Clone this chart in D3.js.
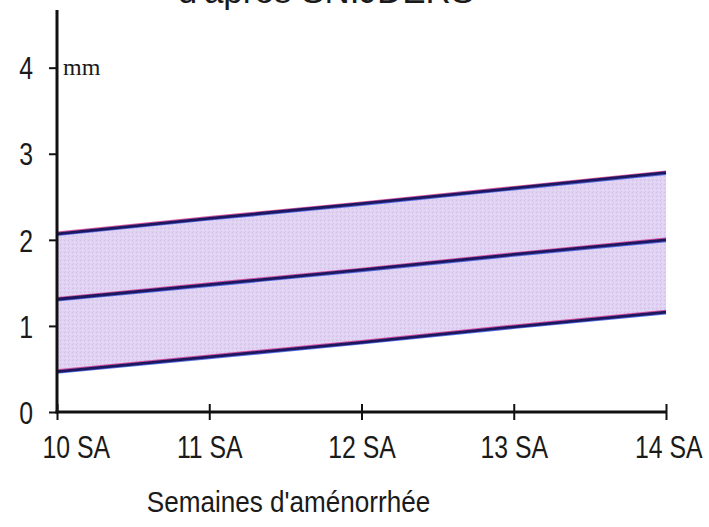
<!DOCTYPE html>
<html>
<head>
<meta charset="utf-8">
<script src="https://cdn.jsdelivr.net/npm/d3@7"></script>
<style>
  html, body { margin: 0; padding: 0; background: #fff; }
  svg { display: block; }
  text { font-family: "Liberation Sans", Arial, Helvetica, sans-serif; fill: #1a1a1a; }
</style>
</head>
<body>
<svg id="chart" width="709" height="527"></svg>
<script>
// Nuchal translucency reference band (mm) by gestational week
const weeks = [10, 11, 12, 13, 14];
const weekLabels = ["10 SA", "11 SA", "12 SA", "13 SA", "14 SA"];
const upper = [2.07, 2.25, 2.42, 2.60, 2.78];   // 95th percentile
const median = [1.31, 1.48, 1.65, 1.83, 2.00];  // median
const lower = [0.47, 0.64, 0.81, 0.99, 1.16];   // 5th percentile
const yTicks = [0, 1, 2, 3, 4];
const title = "d'après SNIJDERS";
const xTitle = "Semaines d'aménorrhée";
const unitLabel = "mm";

const svg = d3.select("#chart");
const plotLeft = 57, plotRight = 666, plotTop = 10, plotBottom = 412;

const x = d3.scaleLinear().domain([10, 14]).range([plotLeft, plotRight]);
const y = d3.scaleLinear().domain([0, 4.67]).range([plotBottom, plotTop]);

// textured lavender fill
const defs = svg.append("defs");
const pat = defs.append("pattern")
  .attr("id", "grain").attr("width", 4).attr("height", 4)
  .attr("patternUnits", "userSpaceOnUse");
pat.append("rect").attr("width", 4).attr("height", 4).attr("fill", "#dfd2f2");
pat.append("rect").attr("x", 0).attr("y", 0).attr("width", 1).attr("height", 1).attr("fill", "#cfbde8");
pat.append("rect").attr("x", 2).attr("y", 2).attr("width", 1).attr("height", 1).attr("fill", "#ecdff6");
pat.append("rect").attr("x", 1).attr("y", 3).attr("width", 1).attr("height", 1).attr("fill", "#d6c6ef");
pat.append("rect").attr("x", 3).attr("y", 1).attr("width", 1).attr("height", 1).attr("fill", "#e8d4f2");

const rows = weeks.map((w, i) => ({ w, lo: lower[i], hi: upper[i], md: median[i] }));

svg.append("path")
  .datum(rows)
  .attr("fill", "url(#grain)")
  .attr("d", d3.area().x(d => x(d.w)).y0(d => y(d.lo)).y1(d => y(d.hi)));

// percentile lines: navy core with magenta/blue fringes
[upper, median, lower].forEach(vals => {
  const line = d3.line().x((d, i) => x(weeks[i])).y(d => y(d));
  svg.append("path").datum(vals).attr("d", line)
    .attr("fill", "none").attr("stroke", "#d0308c").attr("stroke-width", 1.6)
    .attr("transform", "translate(0,-1.5)").attr("opacity", 0.8);
  svg.append("path").datum(vals).attr("d", line)
    .attr("fill", "none").attr("stroke", "#2f4fd8").attr("stroke-width", 1.6)
    .attr("transform", "translate(0,1.5)").attr("opacity", 0.8);
  svg.append("path").datum(vals).attr("d", line)
    .attr("fill", "none").attr("stroke", "#1c1760").attr("stroke-width", 2.8);
});

// y axis (narrow numerals)
const kY = 0.8;
const yAxis = svg.append("g")
  .attr("transform", `translate(${plotLeft},0)`)
  .call(d3.axisLeft(y).tickValues(yTicks).tickSize(8).tickPadding(16).tickFormat(d3.format("d")));
yAxis.select(".domain").remove();
yAxis.selectAll(".tick line").attr("stroke", "#111").attr("stroke-width", 2);
yAxis.selectAll(".tick text")
  .style("font-size", "31px").attr("fill", "#1a1a1a").attr("dy", "0.36em")
  .attr("x", -24 / kY).attr("transform", `scale(${kY},1)`);
svg.append("line")
  .attr("x1", plotLeft).attr("x2", plotLeft).attr("y1", y.range()[1]).attr("y2", plotBottom + 1.5)
  .attr("stroke", "#111").attr("stroke-width", 3);

// x axis (narrow labels)
const kX = 0.8;
const xAxis = svg.append("g")
  .attr("transform", `translate(0,${plotBottom})`)
  .call(d3.axisBottom(x).tickValues(weeks).tickSize(8).tickPadding(16)
    .tickFormat((d, i) => weekLabels[i]));
xAxis.select(".domain").remove();
xAxis.selectAll(".tick line")
  .attr("y1", -8).attr("y2", 8).attr("stroke", "#111").attr("stroke-width", 2);
const weekText = xAxis.selectAll(".tick text")
  .style("font-size", "31px").attr("fill", "#1a1a1a").attr("dy", "0.72em")
  .attr("transform", `scale(${kX},1)`);
// first and last labels kept clear of the corner and the page edge
weekText.filter((d, i) => i === 0).attr("text-anchor", "start").attr("x", -15 / kX);
weekText.filter((d, i, n) => i === n.length - 1).attr("text-anchor", "end").attr("x", 36 / kX);
svg.append("line")
  .attr("x1", plotLeft - 1.5).attr("x2", plotRight).attr("y1", plotBottom).attr("y2", plotBottom)
  .attr("stroke", "#111").attr("stroke-width", 3);

// unit label
svg.append("text")
  .attr("x", plotLeft + 6).attr("y", y(4) + 7)
  .style("font-family", "'Liberation Serif', 'Times New Roman', serif")
  .style("font-size", "24px").text(unitLabel);

// axis title
svg.append("text")
  .attr("transform", `translate(${(145 + 432) / 2},512) scale(0.87,1)`)
  .attr("text-anchor", "middle").style("font-size", "30px")
  .text(xTitle);

// source line, partly above the frame
svg.append("text")
  .attr("x", 326).attr("y", 3)
  .attr("text-anchor", "middle").style("font-size", "35px")
  .text(title);
</script>
</body>
</html>
